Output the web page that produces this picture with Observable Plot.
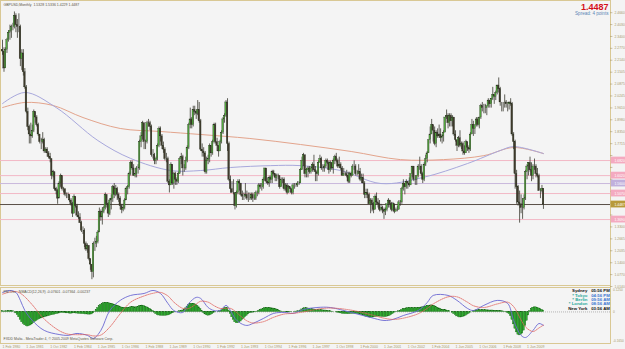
<!DOCTYPE html>
<html><head><meta charset="utf-8">
<script src="https://cdn.jsdelivr.net/npm/d3@7"></script>
<script src="https://cdn.jsdelivr.net/npm/@observablehq/plot@0.6"></script>
<style>
html,body{margin:0;padding:0;background:#f4f4f4;}
#wrap{position:relative;width:625px;height:349px;overflow:hidden;background:#f4f4f4;font-family:"Liberation Sans",Arial,sans-serif;}
#wrap svg{position:absolute;left:0;overflow:visible;}
.frame{position:absolute;border:1px solid #d9c894;box-sizing:border-box;}
</style></head><body><div id="wrap"></div>
<script>
// ---------- DATA (GBPUSD monthly, Feb 1980 .. May 2010) ----------
const title = "GBPUSD,Monthly  1.5328 1.5336 1.4229 1.4487";
const lastPrice = "1.4487";
const spreadText = "Spread: 4 points";
const firstOpen = 2.27;
const closes = [
2.26,2.17,2.27,2.32,2.36,2.37,2.39,2.39,2.45,2.40,2.39,
2.39,2.22,2.25,2.15,2.07,1.94,1.86,1.82,1.81,1.84,1.94,1.91,
1.87,1.82,1.78,1.78,1.79,1.73,1.74,1.72,1.70,1.69,1.60,1.62,
1.53,1.52,1.48,1.56,1.60,1.53,1.53,1.50,1.50,1.50,1.47,1.45,
1.40,1.49,1.44,1.39,1.38,1.35,1.31,1.31,1.24,1.21,1.23,1.16,
1.13,1.09,1.24,1.24,1.25,1.30,1.41,1.38,1.41,1.43,1.50,1.45,
1.40,1.47,1.48,1.54,1.50,1.53,1.50,1.48,1.44,1.42,1.43,1.47,
1.53,1.54,1.61,1.67,1.64,1.60,1.61,1.64,1.64,1.78,1.81,1.88,
1.78,1.78,1.88,1.88,1.86,1.71,1.71,1.68,1.69,1.76,1.85,1.81,
1.76,1.74,1.69,1.69,1.57,1.55,1.66,1.56,1.61,1.58,1.57,1.61,
1.69,1.70,1.64,1.64,1.68,1.75,1.87,1.90,1.87,1.95,1.94,1.93,
1.95,1.89,1.74,1.73,1.72,1.62,1.68,1.69,1.76,1.72,1.78,1.87,
1.78,1.76,1.73,1.78,1.83,1.90,1.92,1.99,1.77,1.58,1.53,1.51,
1.51,1.44,1.51,1.57,1.56,1.50,1.49,1.49,1.50,1.48,1.48,1.48,
1.50,1.48,1.48,1.51,1.51,1.55,1.54,1.54,1.58,1.64,1.57,1.56,
1.59,1.58,1.62,1.61,1.59,1.60,1.60,1.54,1.58,1.58,1.53,1.55,
1.51,1.54,1.53,1.51,1.55,1.55,1.55,1.56,1.56,1.63,1.68,1.71,
1.61,1.63,1.64,1.62,1.64,1.66,1.63,1.62,1.61,1.67,1.69,1.64,
1.64,1.65,1.68,1.67,1.63,1.67,1.64,1.68,1.70,1.68,1.65,1.66,
1.64,1.60,1.61,1.61,1.60,1.57,1.61,1.60,1.65,1.65,1.61,1.61,
1.62,1.58,1.59,1.56,1.50,1.51,1.50,1.45,1.47,1.45,1.42,1.49,
1.46,1.45,1.42,1.43,1.42,1.41,1.42,1.45,1.47,1.45,1.42,1.45,
1.41,1.42,1.42,1.46,1.46,1.53,1.56,1.54,1.57,1.56,1.55,1.61,
1.65,1.58,1.58,1.60,1.65,1.65,1.61,1.58,1.66,1.69,1.72,1.79,
1.82,1.87,1.84,1.77,1.83,1.81,1.82,1.80,1.81,1.83,1.91,1.92,
1.88,1.92,1.89,1.91,1.82,1.79,1.76,1.80,1.76,1.77,1.73,1.72,
1.78,1.75,1.74,1.82,1.87,1.85,1.87,1.90,1.87,1.91,1.97,1.96,
1.96,1.96,1.97,2.00,1.98,2.01,2.03,2.02,2.04,2.08,2.06,1.99,
1.99,1.99,1.99,1.98,1.98,1.99,1.98,1.82,1.78,1.61,1.54,1.46,
1.45,1.43,1.43,1.48,1.62,1.65,1.67,1.63,1.60,1.65,1.65,1.61,
1.60,1.52,1.52,1.5328,1.4487];
const highs = [
2.32,2.28,2.28,2.33,2.37,2.40,2.40,2.41,2.47,2.46,2.43,
2.46,2.40,2.27,2.27,2.17,2.08,1.96,1.87,1.88,1.87,1.95,1.94,
1.92,1.88,1.82,1.80,1.83,1.80,1.75,1.75,1.73,1.72,1.69,1.63,
1.62,1.54,1.53,1.57,1.61,1.60,1.54,1.53,1.51,1.51,1.50,1.48,
1.46,1.50,1.49,1.45,1.41,1.40,1.36,1.33,1.32,1.25,1.24,1.23,
1.16,1.13,1.25,1.27,1.28,1.31,1.43,1.42,1.43,1.44,1.51,1.50,
1.46,1.48,1.50,1.55,1.56,1.55,1.54,1.51,1.49,1.45,1.45,1.48,
1.54,1.55,1.62,1.68,1.68,1.66,1.64,1.65,1.66,1.79,1.83,1.89,
1.88,1.79,1.89,1.90,1.89,1.87,1.74,1.72,1.70,1.77,1.86,1.86,
1.82,1.78,1.75,1.72,1.70,1.58,1.67,1.66,1.62,1.62,1.59,1.62,
1.70,1.72,1.71,1.66,1.70,1.76,1.88,1.96,1.91,1.97,1.97,1.95,
2.00,1.99,1.90,1.77,1.75,1.73,1.70,1.71,1.77,1.76,1.79,1.88,
1.88,1.80,1.76,1.79,1.84,1.91,1.93,2.00,2.01,1.78,1.60,1.57,
1.58,1.51,1.52,1.58,1.58,1.56,1.52,1.51,1.56,1.52,1.51,1.51,
1.51,1.51,1.50,1.52,1.52,1.56,1.56,1.56,1.59,1.64,1.64,1.59,
1.60,1.60,1.63,1.63,1.61,1.61,1.61,1.60,1.59,1.59,1.59,1.56,
1.56,1.55,1.54,1.53,1.56,1.56,1.56,1.57,1.57,1.64,1.70,1.72,
1.71,1.64,1.65,1.65,1.65,1.67,1.71,1.65,1.63,1.68,1.71,1.70,
1.66,1.66,1.69,1.69,1.68,1.68,1.67,1.69,1.71,1.72,1.69,1.70,
1.67,1.65,1.64,1.62,1.63,1.62,1.62,1.62,1.66,1.68,1.66,1.63,
1.66,1.64,1.61,1.61,1.57,1.53,1.53,1.51,1.48,1.48,1.46,1.50,
1.51,1.48,1.47,1.45,1.44,1.43,1.43,1.45,1.48,1.47,1.46,1.46,
1.45,1.43,1.44,1.47,1.47,1.54,1.58,1.56,1.58,1.57,1.59,1.61,
1.65,1.65,1.60,1.60,1.66,1.70,1.66,1.62,1.67,1.71,1.73,1.79,
1.86,1.90,1.87,1.86,1.84,1.85,1.87,1.85,1.82,1.84,1.91,1.95,
1.93,1.93,1.93,1.92,1.91,1.84,1.79,1.81,1.84,1.78,1.78,1.76,
1.79,1.78,1.76,1.83,1.90,1.89,1.87,1.91,1.91,1.91,1.98,1.99,
1.98,1.98,1.97,2.01,2.00,2.01,2.07,2.03,2.05,2.08,2.12,2.07,
1.99,1.99,2.03,2.00,1.99,1.99,2.01,1.99,1.83,1.79,1.63,1.55,
1.52,1.50,1.48,1.50,1.63,1.66,1.67,1.70,1.67,1.66,1.69,1.66,
1.64,1.61,1.53,1.55,1.5336];
const lows = [
2.24,2.15,2.17,2.25,2.31,2.32,2.33,2.37,2.38,2.36,2.33,
2.36,2.18,2.16,2.13,2.06,1.93,1.84,1.77,1.77,1.80,1.83,1.88,
1.86,1.81,1.77,1.74,1.77,1.72,1.72,1.70,1.69,1.67,1.58,1.59,
1.52,1.50,1.45,1.48,1.54,1.52,1.51,1.49,1.48,1.48,1.46,1.44,
1.38,1.40,1.43,1.38,1.37,1.35,1.30,1.29,1.22,1.20,1.19,1.15,
1.10,1.05,1.06,1.20,1.22,1.24,1.30,1.36,1.34,1.40,1.42,1.43,
1.38,1.39,1.42,1.46,1.48,1.49,1.47,1.46,1.42,1.40,1.41,1.42,
1.47,1.50,1.53,1.60,1.63,1.60,1.59,1.59,1.61,1.63,1.75,1.79,
1.74,1.74,1.77,1.86,1.84,1.70,1.69,1.66,1.66,1.68,1.75,1.78,
1.74,1.72,1.68,1.67,1.56,1.51,1.55,1.55,1.53,1.55,1.55,1.56,
1.61,1.66,1.60,1.62,1.63,1.67,1.74,1.85,1.85,1.86,1.92,1.90,
1.92,1.88,1.73,1.70,1.70,1.61,1.61,1.66,1.67,1.70,1.71,1.77,
1.77,1.73,1.70,1.73,1.77,1.82,1.88,1.91,1.73,1.57,1.51,1.51,
1.50,1.42,1.43,1.50,1.52,1.49,1.47,1.47,1.49,1.47,1.46,1.47,
1.47,1.46,1.47,1.47,1.49,1.50,1.53,1.52,1.53,1.57,1.56,1.55,
1.54,1.56,1.56,1.60,1.57,1.57,1.58,1.53,1.54,1.56,1.52,1.52,
1.50,1.51,1.51,1.50,1.50,1.53,1.54,1.54,1.55,1.56,1.63,1.65,
1.59,1.59,1.59,1.61,1.61,1.62,1.62,1.57,1.57,1.60,1.67,1.63,
1.62,1.62,1.64,1.66,1.61,1.62,1.63,1.61,1.66,1.67,1.64,1.64,
1.63,1.60,1.60,1.60,1.59,1.56,1.56,1.59,1.60,1.63,1.60,1.60,
1.61,1.57,1.56,1.56,1.48,1.48,1.48,1.45,1.40,1.41,1.40,1.42,
1.45,1.43,1.41,1.41,1.40,1.37,1.39,1.41,1.43,1.43,1.41,1.41,
1.40,1.41,1.41,1.42,1.44,1.45,1.52,1.50,1.53,1.53,1.54,1.55,
1.59,1.57,1.55,1.55,1.59,1.63,1.60,1.56,1.57,1.65,1.67,1.72,
1.77,1.82,1.78,1.76,1.75,1.80,1.80,1.78,1.77,1.78,1.83,1.90,
1.85,1.86,1.86,1.86,1.81,1.78,1.73,1.75,1.75,1.74,1.71,1.71,
1.72,1.73,1.72,1.73,1.82,1.81,1.82,1.86,1.86,1.85,1.90,1.94,
1.93,1.93,1.92,1.96,1.96,1.96,2.00,1.98,2.00,2.03,2.04,1.97,
1.94,1.94,1.96,1.96,1.94,1.95,1.97,1.81,1.74,1.53,1.45,1.44,
1.35,1.40,1.37,1.42,1.47,1.58,1.60,1.62,1.57,1.58,1.63,1.59,
1.59,1.52,1.48,1.51,1.4229];

// moving averages (month index, price)
const maSlowIdx = [0,15,34,54,79,106,133,166,200,234,267,296,323,343,363];
const maSlowVal = [1.963,1.990,1.974,1.910,1.852,1.836,1.820,1.799,1.767,1.730,1.687,1.687,1.708,1.751,1.719];
const maFastIdx = [0,15,36,64,86,113,133,153,180,200,227,254,282,312,334,343,363];
const maFastVal = [1.984,2.043,1.963,1.788,1.693,1.629,1.629,1.645,1.655,1.655,1.629,1.560,1.592,1.666,1.735,1.756,1.719];

// horizontal levels
const levelVals   = [1.6820,1.6020,1.5600,1.5070,1.4487,1.3690];
const levelColors = ["#f2b8c6","#f2b8c6","#c9b8dc","#f2b8c6","#5a5048","#f2b8c6"];
const levelBoxes  = ["#f4aac0","#f4aac0","#c0b0dc","#f4aac0","#b89a3a","#f4aac0"];

// price axis labels
const yTicks = [1.0140,1.0770,1.1400,1.2035,1.2665,1.3300,1.3930,1.4560,1.5190,1.5825,1.6455,1.7085,1.7715,1.8350,1.8980,1.9610,2.0245,2.0875,2.1505,2.2140,2.2770,2.3400,2.4030,2.4660];

// date axis labels
const dateLabels = ["1 Feb 1980","1 Jun 1981","1 Oct 1982","1 Feb 1984","1 Jun 1985","1 Oct 1986","1 Feb 1988","1 Jun 1989","1 Oct 1990","1 Feb 1992","1 Jun 1993","1 Oct 1994","1 Feb 1996","1 Jun 1997","1 Oct 1998","1 Feb 2000","1 Jun 2001","1 Oct 2002","1 Feb 2004","1 Jun 2005","1 Oct 2006","1 Feb 2008","1 Jun 2009"];

// MACD panel
const macdLabel = "PM Osc   NMACD(12,26,9) -0.07601 -0.07364 -0.00237";
const macdIdx = [0,5,9,12,15,20,28,38,44,50,57,61,66,72,79,86,95,101,106,111,115,121,125,130,133,138,142,146,150,153,156,160,164,168,175,182,189,195,202,211,220,234,247,256,262,269,279,285,289,299,305,312,316,323,332,339,343,348,351,356,360,363];
const macdVal = [0.110,0.121,0.110,0.065,0.008,-0.048,-0.104,-0.127,-0.132,-0.121,-0.132,-0.149,-0.104,0.008,0.065,0.093,0.104,0.121,0.104,0.048,0.008,-0.003,0.048,0.082,0.076,0.025,0.008,0.008,0.037,0.008,-0.037,-0.065,-0.076,-0.065,-0.037,-0.008,-0.003,-0.008,0.014,0.025,0.025,-0.003,-0.031,-0.048,-0.042,-0.020,0.008,0.053,0.093,0.093,0.065,0.020,0.008,0.037,0.065,0.048,-0.048,-0.132,-0.144,-0.104,-0.065,-0.076];
const signalVal = [0.100,0.112,0.115,0.105,0.085,0.040,-0.040,-0.105,-0.125,-0.128,-0.128,-0.135,-0.130,-0.085,-0.010,0.055,0.090,0.105,0.110,0.090,0.055,0.020,0.020,0.045,0.060,0.055,0.035,0.020,0.020,0.020,0.005,-0.025,-0.050,-0.062,-0.055,-0.030,-0.012,-0.008,0.000,0.015,0.022,0.010,-0.015,-0.035,-0.042,-0.035,-0.010,0.020,0.045,0.085,0.085,0.055,0.035,0.025,0.045,0.055,0.030,-0.045,-0.085,-0.110,-0.090,-0.074];
const histVal = [
0.004,0.003,0.003,0.004,0.005,0.006,0.006,0.005,0.000,-0.008,-0.018,
-0.030,-0.045,-0.058,-0.068,-0.075,-0.080,-0.082,-0.080,-0.076,-0.070,-0.062,-0.056,
-0.050,-0.045,-0.041,-0.037,-0.034,-0.031,-0.028,-0.026,-0.024,-0.021,-0.019,-0.017,
-0.015,-0.013,-0.011,-0.009,-0.006,-0.005,-0.006,-0.007,-0.008,-0.008,-0.009,-0.010,
-0.009,-0.008,-0.008,-0.009,-0.010,-0.011,-0.012,-0.012,-0.013,-0.014,-0.014,-0.015,
-0.015,-0.014,-0.008,0.002,0.012,0.022,0.032,0.040,0.046,0.050,0.052,0.052,
0.050,0.048,0.046,0.044,0.041,0.038,0.035,0.032,0.028,0.025,0.023,0.022,
0.022,0.023,0.024,0.026,0.027,0.027,0.026,0.026,0.028,0.032,0.035,0.036,
0.034,0.030,0.026,0.022,0.018,0.012,0.006,-0.004,-0.012,-0.018,-0.020,-0.021,
-0.022,-0.022,-0.022,-0.021,-0.020,-0.019,-0.014,-0.008,-0.004,-0.002,0.000,0.002,
0.004,0.006,0.008,0.012,0.020,0.030,0.038,0.043,0.046,0.046,0.044,0.040,
0.034,0.026,0.016,0.004,-0.006,-0.014,-0.019,-0.021,-0.020,-0.017,-0.012,-0.006,
-0.002,0.000,0.002,0.004,0.008,0.014,0.020,0.024,0.022,0.008,-0.012,-0.030,
-0.045,-0.058,-0.064,-0.064,-0.060,-0.054,-0.046,-0.038,-0.030,-0.022,-0.014,-0.008,
-0.005,-0.004,-0.003,-0.002,0.002,0.006,0.010,0.014,0.018,0.021,0.022,0.022,
0.022,0.021,0.020,0.019,0.017,0.014,0.010,0.006,0.003,0.001,-0.001,-0.002,
-0.003,-0.003,-0.002,-0.001,0.000,0.001,0.002,0.003,0.004,0.008,0.014,0.019,
0.021,0.021,0.020,0.018,0.016,0.015,0.014,0.012,0.010,0.010,0.011,0.010,
0.009,0.008,0.008,0.007,0.005,0.004,0.002,0.001,0.000,-0.002,-0.004,-0.006,
-0.008,-0.010,-0.011,-0.012,-0.012,-0.013,-0.012,-0.011,-0.010,-0.010,-0.011,-0.012,
-0.013,-0.015,-0.017,-0.020,-0.024,-0.027,-0.029,-0.031,-0.032,-0.032,-0.031,-0.029,
-0.027,-0.026,-0.026,-0.027,-0.028,-0.029,-0.029,-0.027,-0.025,-0.022,-0.018,-0.012,
-0.006,-0.002,0.001,0.004,0.007,0.011,0.015,0.018,0.020,0.021,0.022,0.022,
0.022,0.021,0.021,0.022,0.023,0.024,0.025,0.026,0.028,0.030,0.032,0.034,
0.036,0.037,0.035,0.032,0.028,0.024,0.020,0.016,0.013,0.011,0.010,0.009,
0.007,0.004,0.000,-0.005,-0.012,-0.019,-0.025,-0.029,-0.031,-0.031,-0.029,-0.026,
-0.021,-0.016,-0.011,-0.005,0.000,0.004,0.007,0.009,0.010,0.010,0.010,0.010,
0.010,0.010,0.009,0.009,0.008,0.008,0.008,0.007,0.007,0.007,0.006,0.005,
0.004,0.003,0.001,-0.002,-0.006,-0.012,-0.024,-0.045,-0.070,-0.095,-0.115,-0.128,
-0.132,-0.130,-0.122,-0.105,-0.080,-0.050,-0.020,0.005,0.018,0.024,0.026,0.026,
0.024,0.020,0.016,0.012,0.008];
const macdAxisTicks = [0.1250, 0, -0.1650];
const clockNames = ["Sydney","* Tokyo","* Berlin","* London","New York"];
const clockTimes = ["05:56 PM","04:56 PM","09:56 AM","08:56 AM","03:56 AM"];
const footer = "FXDD Malta - MetaTrader 4, \u00a9 2005-2009 MetaQuotes Software Corp.";

// ---------- BUILD ----------
const candles = closes.map((c,i)=>({i, o: i===0 ? firstOpen : closes[i-1], h: highs[i], l: lows[i], c}));
const maSlow = maSlowIdx.map((i,k)=>({i, v: maSlowVal[k]}));
const maFast = maFastIdx.map((i,k)=>({i, v: maFastVal[k]}));
const levels = levelVals.map((v,k)=>({v, c: levelColors[k], b: levelBoxes[k]}));
const MONTHS=["Jan","Feb","Mar","Apr","May","Jun","Jul","Aug","Sep","Oct","Nov","Dec"];
const idxOf = s => { const p = s.split(" "); return (+p[2]-1980)*12 + MONTHS.indexOf(p[1]) - 1; };
const macdPts = macdIdx.map((i,k)=>({i, v: macdVal[k]}));
const sigPts = macdIdx.map((i,k)=>({i, v: signalVal[k]}));
const hist = histVal.map((v,i)=>({i, v}));

const XD = [0, 408], XR = [2, 610];
const axisCol = "#a8996a", borderCol = "#d9c894";
const FONT = "Liberation Sans, Arial, sans-serif";
const ppx = 0.005304; // price per pixel (label box half-height)
// axis labels that would sit under a level box are not drawn (as in the terminal)
const visibleTicks = yTicks.filter(t => levelVals.every(v => Math.abs(v - t) > 7*ppx));

const main = Plot.plot({
  width: 625, height: 287, margin: 0,
  style: {background: "transparent", fontFamily: FONT},
  x: {type: "linear", domain: XD, range: XR, axis: null},
  y: {type: "linear", domain: [1.0140, 2.5201], range: [286, 2], axis: null},
  color: {type: "identity"},
  marks: [
    Plot.ruleY(levels, {y: "v", x1: -2, x2: 408, stroke: "c", strokeWidth: 1}),
    Plot.line(maSlow, {x: "i", y: "v", stroke: "#e3a48c", strokeWidth: 1, curve: "catmull-rom"}),
    Plot.line(maFast, {x: "i", y: "v", stroke: "#a8a8dc", strokeWidth: 1, curve: "catmull-rom"}),
    Plot.ruleX(candles, {x: "i", y1: "l", y2: "h", stroke: "#303025", strokeWidth: 0.75}),
    Plot.rect(candles, {x1: d => d.i - 0.5, x2: d => d.i + 0.5, y1: "o", y2: "c",
      fill: d => d.c >= d.o ? "#52aa3e" : "#3f3a2c", stroke: "#2a3020", strokeWidth: 0.3}),
    Plot.ruleX([408], {stroke: borderCol, strokeWidth: 1}),
    Plot.ruleY(yTicks, {y: d => d, x1: 408, x2: 409.6, stroke: axisCol, strokeWidth: 0.6}),
    Plot.text(visibleTicks, {y: d => d, x: 408, dx: 4, text: d => d.toFixed(4), textAnchor: "start", fontSize: 3.4, fill: axisCol}),
    Plot.rect(levels, {x1: 408.4, x2: 419, y1: d => d.v - 3.4*ppx, y2: d => d.v + 3.4*ppx, fill: "b"}),
    Plot.text(levels, {y: "v", x: 408, dx: 4, text: d => d.v.toFixed(4), textAnchor: "start", fontSize: 3.4, fill: "#ffffff"}),
    Plot.text([title], {frameAnchor: "top-left", dx: 3, dy: 2.5, textAnchor: "start", lineAnchor: "top", fontSize: 3.5, fill: "#5b5444"}),
    Plot.text([lastPrice], {frameAnchor: "top-right", dx: -17, dy: 3, textAnchor: "end", lineAnchor: "top", fontSize: 9, fontWeight: "bold", fill: "#d4101a"}),
    Plot.text([spreadText], {frameAnchor: "top-right", dx: -17, dy: 11.5, textAnchor: "end", lineAnchor: "top", fontSize: 4.6, fill: "#5b87b5"})
  ]
});

const clockColorsName = ["#111111","#2aa89a","#2aa89a","#2aa89a","#111111"];
const clockColorsTime = ["#111111","#3b73d0","#3b73d0","#3b73d0","#111111"];
const clockRows = clockNames.map((n,k)=>({n, t: clockTimes[k], k}));

const macd = Plot.plot({
  width: 625, height: 62, margin: 0,
  style: {background: "transparent", fontFamily: FONT},
  x: {type: "linear", domain: XD, range: XR, axis: null},
  y: {type: "linear", domain: [-0.172, 0.132], range: [55, 1], axis: null},
  color: {type: "identity"},
  marks: [
    Plot.ruleY([0], {x1: -2, x2: 408, stroke: "#9a9a9a", strokeWidth: 0.7, strokeDasharray: "1,1"}),
    Plot.rect(hist, {x1: d => d.i - 0.5, x2: d => d.i + 0.5, y1: 0, y2: "v", fill: "#2fae2f", stroke: "#0f5f0f", strokeWidth: 0.35}),
    Plot.line(macdPts, {x: "i", y: "v", stroke: "#6b68d2", strokeWidth: 0.9, curve: "catmull-rom"}),
    Plot.line(sigPts, {x: "i", y: "v", stroke: "#e0605a", strokeWidth: 0.8, strokeDasharray: "1.2,1", curve: "catmull-rom"}),
    Plot.ruleX([408], {y1: -0.172, y2: 0.132, stroke: borderCol, strokeWidth: 1}),
    Plot.text(macdAxisTicks, {y: d => d, x: 408, dx: 2.5, text: d => d === 0 ? "0" : d.toFixed(4), textAnchor: "start", fontSize: 3.2, fill: axisCol}),
    Plot.text([macdLabel], {frameAnchor: "top-left", dx: 3, dy: 3, textAnchor: "start", lineAnchor: "top", fontSize: 3.5, fill: "#5b5444"}),
    Plot.text([footer], {frameAnchor: "top-left", dx: 3, dy: 50, textAnchor: "start", lineAnchor: "top", fontSize: 3.5, fill: "#5b5444"}),
    Plot.text(clockRows, {x: 392.5, y: d => 0.118 - d.k*0.0245, text: "n", textAnchor: "end", fontSize: 4.3, fontWeight: "bold", fill: d => clockColorsName[d.k]}),
    Plot.text(clockRows, {x: 395, y: d => 0.118 - d.k*0.0245, text: "t", textAnchor: "start", fontSize: 4.3, fontWeight: "bold", fill: d => clockColorsTime[d.k]}),
    Plot.text(dateLabels, {x: d => idxOf(d), frameAnchor: "bottom", dy: -1.5, text: d => d, textAnchor: "start", lineAnchor: "bottom", fontSize: 3.5, fill: axisCol})
  ]
});

const wrap = document.getElementById("wrap");
function frame(l,t,w,h){const d=document.createElement("div");d.className="frame";d.style.left=l+"px";d.style.top=t+"px";d.style.width=w+"px";d.style.height=h+"px";wrap.appendChild(d);}
frame(0,0,611,286);
frame(0,287,611,57);
main.style.top = "0px"; wrap.appendChild(main);
macd.style.top = "287px"; wrap.appendChild(macd);
</script></body></html>
